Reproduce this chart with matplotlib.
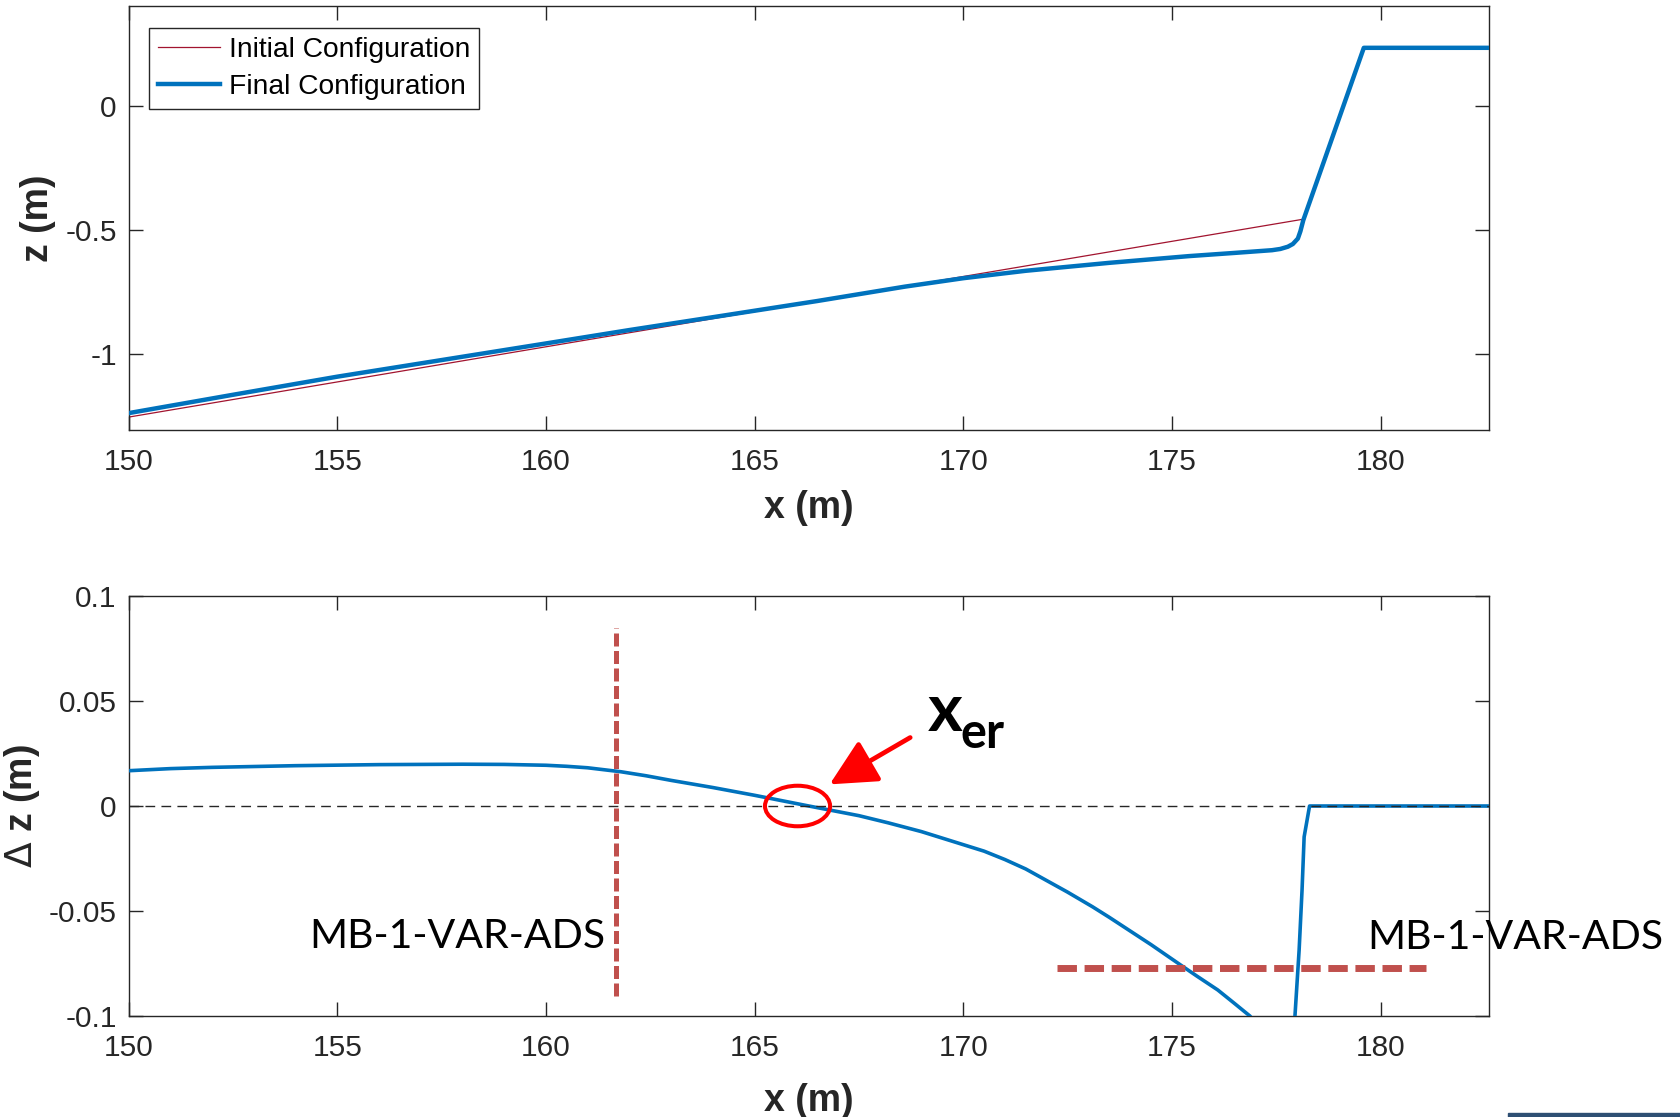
import matplotlib.pyplot as plt
import numpy as np
from matplotlib.patches import Ellipse, Rectangle
from matplotlib.ticker import FuncFormatter

plt.rcParams['font.family'] = ['Liberation Sans', 'DejaVu Sans']
plt.rcParams['axes.unicode_minus'] = False

# profile along the flume, top panel
x_init = [150.0, 178.15, 179.6, 182.6]
z_init = [-1.254, -0.456, 0.235, 0.235]

x_final = [150.0, 152.5, 155.0, 157.5, 160.0, 162.0, 164.2, 166.5, 168.6, 170.0,
           171.5, 173.5, 175.4, 176.5, 177.4, 177.6, 177.78, 177.9, 178.02, 178.08,
           178.15, 179.6, 182.6]
z_final = [-1.238, -1.164, -1.091, -1.024, -0.957, -0.903, -0.846, -0.786, -0.728, -0.694,
           -0.664, -0.632, -0.605, -0.592, -0.581, -0.576, -0.567, -0.556, -0.534, -0.505,
           -0.46, 0.235, 0.235]

# bed change, bottom panel
x_dz = [150.0, 151.0, 152.0, 154.0, 156.0, 158.0, 159.0, 160.0, 160.5, 161.0,
        161.8, 162.4, 163.0, 164.0, 165.0, 166.3, 167.5, 168.2, 169.0, 170.0,
        170.5, 171.0, 171.5, 172.0, 172.5, 173.1, 173.5, 174.0, 174.5, 175.15,
        175.6, 176.1, 176.5, 176.87, 177.4, 177.85, 177.95, 178.05, 178.12, 178.17,
        178.3, 182.6]
dz = [0.0168, 0.0178, 0.0184, 0.0192, 0.0197, 0.0199, 0.0198, 0.0194, 0.0189, 0.0182,
      0.0163, 0.0144, 0.0122, 0.0088, 0.0051, 0.0, -0.0046, -0.0080, -0.0122, -0.0184,
      -0.0215, -0.0255, -0.0300, -0.0355, -0.0410, -0.0480, -0.0530, -0.0595, -0.0660, -0.0749,
      -0.0810, -0.0876, -0.0940, -0.1, -0.113, -0.122, -0.1, -0.0686, -0.04, -0.0147,
      0.0, 0.0]

x_ticks = [150, 155, 160, 165, 170, 175, 180]
z_ticks = [-1, -0.5, 0]
dz_ticks = [-0.1, -0.05, 0, 0.05, 0.1]

# marker positions for the annotations
x_sec = 161.69
x_er = 166.03
level_ads = -0.0773
x_ads = [172.24, 181.1]

blue = '#0072BD'
red_line = '#A2142F'
red_mark = '#C0504D'

fig = plt.figure(figsize=(16.81, 11.17), dpi=100)
W, H = 1681, 1117
ax1 = fig.add_axes([128.6 / W, 1 - 430 / H, 1360.4 / W, 423.6 / H])
ax2 = fig.add_axes([128.6 / W, 1 - 1016 / H, 1360.4 / W, 420 / H])

fmt = FuncFormatter(lambda v, p: f'{v:g}')
for ax in (ax1, ax2):
    ax.set_xlim(150, 182.6)
    ax.set_xticks(x_ticks)
    ax.xaxis.set_major_formatter(fmt)
    ax.yaxis.set_major_formatter(fmt)
    ax.tick_params(direction='in', length=10, width=1, color='#262626',
                   top=True, right=True, labelsize=21.5, labelcolor='#262626')
    ax.tick_params(axis='x', pad=13)
    ax.tick_params(axis='y', pad=8.5)
    for s in ax.spines.values():
        s.set_color('#262626')
        s.set_linewidth(1)

# top panel
ax1.plot(x_init, z_init, color=red_line, lw=0.9, label='Initial Configuration', zorder=2)
ax1.plot(x_final, z_final, color=blue, lw=3.2, label='Final Configuration', zorder=3)
ax1.set_ylim(-1.306, 0.402)
ax1.set_yticks(z_ticks)
ax1.set_xlabel('x (m)', fontsize=27, fontweight='bold', color='#262626')
ax1.set_ylabel('z (m)', fontsize=27, fontweight='bold', color='#262626')
ax1.xaxis.set_label_coords(0.5, -0.1416)
ax1.xaxis.label.set_va('top')
ax1.yaxis.set_label_coords(-0.053, 0.5)
leg = ax1.legend(loc='upper left', bbox_to_anchor=(0.015, 0.95), borderaxespad=0,
                 fontsize=20.3, handlelength=2.2, handletextpad=0.3, labelspacing=0.4,
                 borderpad=0.32, fancybox=False, framealpha=1)
leg.get_frame().set_edgecolor('#262626')
leg.get_frame().set_linewidth(1)

# bottom panel
ax2.plot(x_dz, dz, color=blue, lw=2.6, zorder=3)
ax2.axhline(0, color='#262626', lw=1, ls=(0, (7, 4.5)), zorder=4)
ax2.set_ylim(-0.1, 0.1)
ax2.set_yticks(dz_ticks)
ax2.set_xlabel('x (m)', fontsize=27, fontweight='bold', color='#262626')
ax2.set_ylabel(r'$\Delta$ z (m)', fontsize=27, fontweight='bold', color='#262626')
ax2.xaxis.set_label_coords(0.5, -0.160)
ax2.xaxis.label.set_va('top')
ax2.yaxis.set_label_coords(-0.064, 0.5)

ax2.plot([x_sec, x_sec], [-0.0903, 0.0847], color=red_mark, lw=3.6,
         ls=(0, (2.6, 0.9)), zorder=5, clip_on=False)
ax2.plot(x_ads, [level_ads, level_ads], color=red_mark, lw=5,
         ls=(0, (2.8, 1.1)), zorder=5, clip_on=False)

ax2.text(154.32, -0.0676, 'MB-1-VAR-ADS', fontsize=29.5, family='Lato',
         va='baseline', ha='left', color='black', zorder=6)
ax2.text(179.68, -0.0681, 'MB-1-VAR-ADS', fontsize=29.5, family='Lato',
         va='baseline', ha='left', color='black', zorder=6, clip_on=False)

ax2.add_patch(Ellipse((x_er, 0.0), 1.56, 0.0193, fill=False, ec='red', lw=2.9, zorder=6))
ax2.annotate('', xy=(166.8, 0.0103), xytext=(168.73, 0.0326),
             arrowprops=dict(arrowstyle='-|>,head_length=1.3,head_width=0.65',
                             color='red', lw=3.4, mutation_scale=22,
                             shrinkA=0, shrinkB=0), zorder=6)
ax2.text(169.16, 0.0356, 'x', fontsize=48, family='Lato', fontweight='bold',
         va='baseline', ha='left', zorder=6)
ax2.text(169.93, 0.0274, 'er', fontsize=35, family='Lato', fontweight='bold',
         va='baseline', ha='left', zorder=6)

fig.patches.append(Rectangle((1508 / W, 0), 1 - 1508 / W, 4 / H, transform=fig.transFigure,
                             color='#2E4F73', zorder=0))

fig.savefig('out.png', dpi=100)
